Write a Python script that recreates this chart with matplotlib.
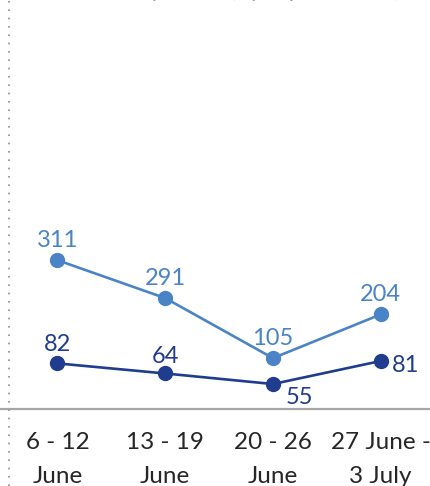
import matplotlib
matplotlib.use("Agg")
import matplotlib.pyplot as plt
from matplotlib.lines import Line2D

plt.rcParams['font.family'] = ['Lato', 'DejaVu Sans']

categories = ["6 - 12\nJune", "13 - 19\nJune", "20 - 26\nJune", "27 June -\n3 July"]
# plotted heights (axis units) and printed data labels
light_values = [310, 231, 106, 197]
light_labels = ["311", "291", "105", "204"]
dark_values = [95, 74, 52, 100]
dark_labels = ["82", "64", "55", "81"]

light_color = "#4A84C6"
dark_color = "#1F3C8E"
tick_color = "#262626"

W, H = 430, 486
fig = plt.figure(figsize=(W / 100, H / 100), dpi=100)
ax_bottom = 1 - 409 / H
ax = fig.add_axes([0, ax_bottom, 1, 1 - ax_bottom])

x = list(range(len(categories)))
ax.plot(x, light_values, color=light_color, lw=1.9, marker='o', ms=10, zorder=3)
ax.plot(x, dark_values, color=dark_color, lw=1.9, marker='o', ms=10, zorder=3)

fs = 17
for xi, v, lab in zip(x, light_values, light_labels):
    ax.annotate(lab, (xi, v), xytext=(0, 14), textcoords='offset points',
                ha='center', va='center', color=light_color, fontsize=fs)

dark_offsets = [(0, 13.5), (0, 12.5), (19, -9.5), (18, -3)]
for xi, v, lab, off in zip(x, dark_values, dark_labels, dark_offsets):
    ax.annotate(lab, (xi, v), xytext=off, textcoords='offset points',
                ha='center', va='center', color=dark_color, fontsize=fs)

px = 107.73
x0 = 57.5
ax.set_xlim(-x0 / px, (W - x0) / px)
ax.set_ylim(0, 409 / 0.48)

ax.set_xticks(x)
ax.set_xticklabels(categories, fontsize=17.5, color=tick_color, linespacing=1.75)
ax.tick_params(axis='x', length=0, pad=16.5)
ax.set_yticks([])
for s in ['top', 'left', 'right']:
    ax.spines[s].set_visible(False)
ax.spines['bottom'].set_color('#A6A6A6')
ax.spines['bottom'].set_linewidth(1.6)
ax.patch.set_alpha(0)

# dotted vertical separator on the left
fig.add_artist(Line2D([9 / W, 9 / W], [0, 1], transform=fig.transFigure,
                      color='#A0A0A0', lw=1.5, linestyle=(0, (0.8, 3.2)),
                      dash_capstyle='butt'))

# clipped title at top edge
fig.text(400 / W, 1 + 3 / H, "Weekly cases (by report week)", ha='right',
         va='baseline', color='#A0A0A0', fontsize=fs)

fig.savefig("out.png", dpi=100)
